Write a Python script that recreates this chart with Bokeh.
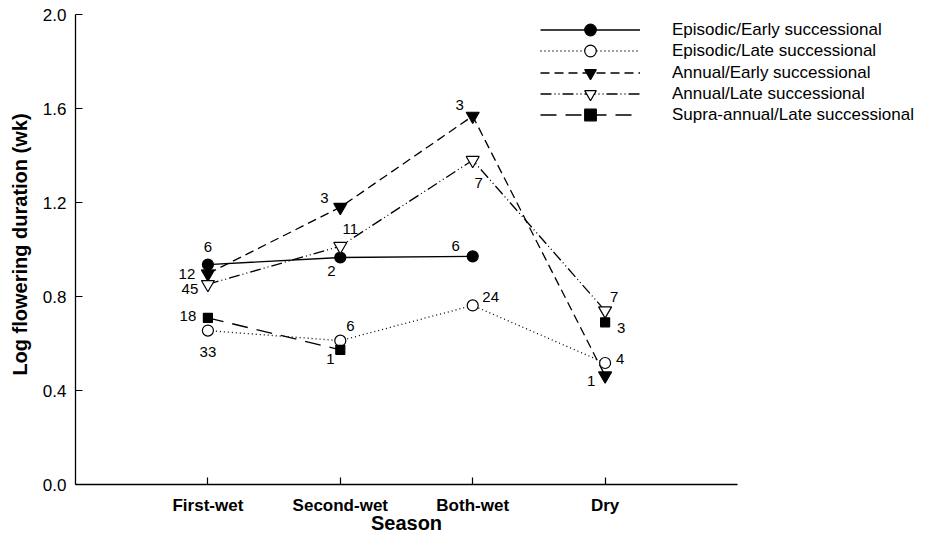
import math
from bokeh.plotting import figure
from bokeh.models import Range1d, FixedTicker, Legend, LegendItem, ColumnDataSource, PrintfTickFormatter, Label
from bokeh.core.properties import value
from bokeh.embed import file_html
from bokeh.resources import INLINE

nan = float("nan")

# ---- data ----
seasons = ["First-wet", "Second-wet", "Both-wet", "Dry"]
season_x = [1, 2, 3, 4]
y_ticks = [0.0, 0.4, 0.8, 1.2, 1.6, 2.0]

series_names = [
    "Episodic/Early successional",
    "Episodic/Late successional",
    "Annual/Early successional",
    "Annual/Late successional",
    "Supra-annual/Late successional",
]
episodic_early = [0.936, 0.966, 0.971, nan]
episodic_late = [0.655, 0.612, 0.762, 0.517]
annual_early = [0.897, 1.180, 1.568, 0.463]
annual_late = [0.852, 1.014, 1.380, 0.740]
supra_late = [0.709, 0.573, nan, 0.690]

n_episodic_early = ["6", "2", "6", ""]
n_episodic_late = ["33", "6", "24", "4"]
n_annual_early = ["12", "3", "3", "1"]
n_annual_late = ["45", "11", "7", "7"]
n_supra_late = ["18", "1", "", "3"]

# label offsets (pixels, style only)
off_episodic_early = [(0, -18), (-9, 14), (-17, -10), (0, 0)]
off_episodic_late = [(0, 21), (10, -15), (18, -8), (15, -4)]
off_annual_early = [(-21, 0), (-16, -9), (-13, -11), (-14, 5)]
off_annual_late = [(-18, 5), (10, -17), (6, 23), (9, -14)]
off_supra_late = [(-20, -2), (-10, 9), (0, 0), (16, 6)]

FONT = "Liberation Sans"

# ---- layout (pixels) ----
W, H = 916, 534
X0_PX, X_SCALE = 75, 132.4      # x = 0 position, px per category step
Y0_PX, Y_SCALE = 484, 235.0     # y = 0 position (from top), px per unit

# the frame covers the whole canvas; axes are drawn at fixed data locations
p = figure(width=W, height=H,
           x_range=Range1d(-X0_PX / X_SCALE, (W - X0_PX) / X_SCALE),
           y_range=Range1d(-(H - Y0_PX) / Y_SCALE, Y0_PX / Y_SCALE),
           output_backend="svg", toolbar_location=None,
           min_border_left=0, min_border_right=0, min_border_top=0, min_border_bottom=0)
p.outline_line_color = None
p.grid.visible = False
p.background_fill_color = "white"

for ax in (p.xaxis, p.yaxis):
    ax.fixed_location = 0
    ax.axis_line_color = "black"
    ax.axis_line_width = 1.3
    ax.major_tick_line_color = "black"
    ax.major_tick_line_width = 1.2
    ax.major_tick_in = 7
    ax.major_tick_out = 0
    ax.minor_tick_line_color = None
    ax.major_label_text_font = FONT
    ax.major_label_text_color = "black"
    ax.major_label_text_font_size = "17px"

p.xaxis.bounds = (0, 5)
p.xaxis.ticker = FixedTicker(ticks=season_x)
p.xaxis.major_label_overrides = {x: s for x, s in zip(season_x, seasons)}
p.xaxis.major_label_text_font_style = "bold"
p.xaxis.major_label_standoff = 11

p.yaxis.bounds = (0, 2)
p.yaxis.ticker = FixedTicker(ticks=y_ticks)
p.yaxis.formatter = PrintfTickFormatter(format="%.1f")
p.yaxis.major_label_standoff = 9

# axis titles
p.add_layout(Label(x=2.5, y=12, x_units="data", y_units="screen", text="Season",
                   text_font=FONT, text_font_size="20px", text_font_style="bold",
                   text_color="black", text_align="center", text_baseline="middle"))
p.add_layout(Label(x=19, y=290, x_units="screen", y_units="screen",
                   text="Log flowering duration (wk)", angle=math.pi / 2,
                   text_font=FONT, text_font_size="20px", text_font_style="bold",
                   text_color="black", text_align="center", text_baseline="middle"))

styles = [
    dict(dash="solid", marker="circle", fill="black", size=11),
    dict(dash="1 3", marker="circle", fill="white", size=11),
    dict(dash="9 5", marker="inverted_triangle", fill="black", size=13),
    dict(dash="11 3 1 3 1 3", marker="inverted_triangle", fill="white", size=13),
    dict(dash="16 9", marker="square", fill="black", size=9),
]
values = [episodic_early, episodic_late, annual_early, annual_late, supra_late]
counts = [n_episodic_early, n_episodic_late, n_annual_early, n_annual_late, n_supra_late]
offsets = [off_episodic_early, off_episodic_late, off_annual_early, off_annual_late, off_supra_late]

lines = []
for vals, st in zip(values, styles):
    lr = p.line(season_x, vals, line_color="black", line_width=1.3, line_dash=st["dash"])
    lines.append(lr)

marks = []
for vals, st in zip(values, styles):
    mr = p.scatter(season_x, vals, marker=st["marker"], size=st["size"],
                   fill_color=st["fill"], line_color="black", line_width=1.2)
    marks.append(mr)

lx, ly, lt, lxo, lyo = [], [], [], [], []
for vals, cnt, off in zip(values, counts, offsets):
    for x, v, c, o in zip(season_x, vals, cnt, off):
        if c and not math.isnan(v):
            lx.append(x); ly.append(v); lt.append(c); lxo.append(o[0]); lyo.append(o[1])
lsrc = ColumnDataSource(dict(x=lx, y=ly, text=lt, xo=lxo, yo=lyo))
p.text(x="x", y="y", text="text", x_offset="xo", y_offset="yo", source=lsrc,
       text_font=value(FONT), text_font_size="15px", text_color="black",
       text_align="center", text_baseline="middle")

# legend: one Legend per row so the marker can be large while rows stay close
row_bottom_y = 490
for i, (name, lr, mr) in enumerate(zip(series_names, lines, marks)):
    leg = Legend(items=[LegendItem(label=name, renderers=[lr, mr])],
                 location=(540, row_bottom_y - round(i * 21.3)),
                 glyph_width=100, glyph_height=29, label_height=29,
                 label_standoff=32, label_text_font=FONT, label_text_font_size="17px",
                 label_text_color="black", padding=0, margin=0, spacing=0,
                 border_line_color=None, background_fill_alpha=0)
    p.add_layout(leg)

open("out.html", "w").write(file_html(p, INLINE))
